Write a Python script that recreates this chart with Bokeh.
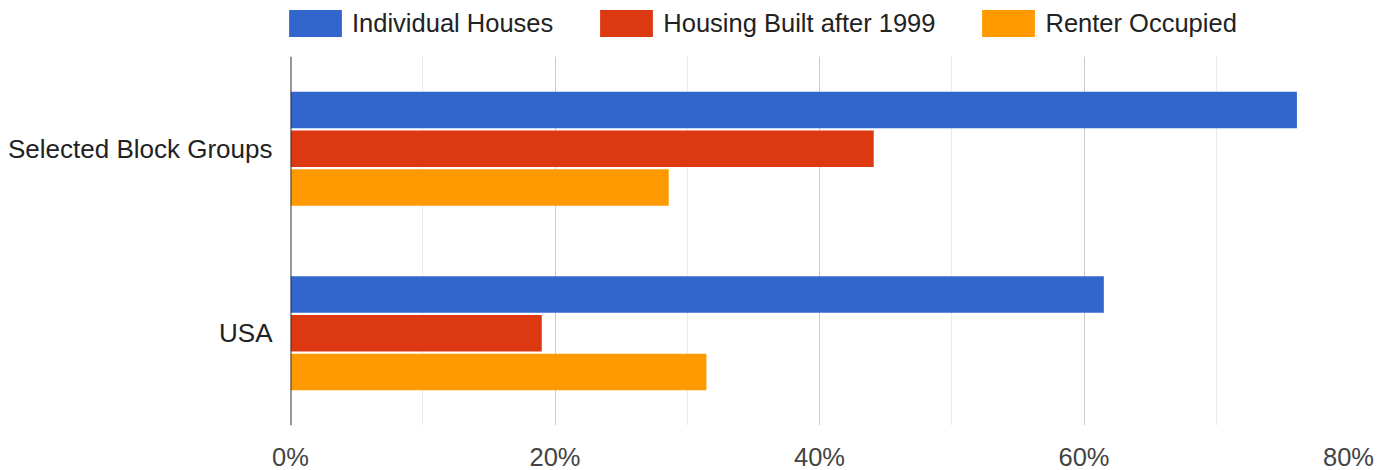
from bokeh.plotting import figure
from bokeh.models import (FactorRange, Range1d, FixedTicker, PrintfTickFormatter,
                          Span, Legend, LegendItem, ColumnDataSource)
from bokeh.transform import dodge
from bokeh.embed import file_html
from bokeh.resources import INLINE

categories = ["Selected Block Groups", "USA"]
series_names = ["Individual Houses", "Housing Built after 1999", "Renter Occupied"]
individual_houses = [76.1, 61.5]
housing_after_1999 = [44.1, 19.0]
renter_occupied = [28.6, 31.45]
x_major_ticks = [0, 20, 40, 60, 80]
x_minor_ticks = [10, 30, 50, 70]

colors = ["#3366cc", "#dc3912", "#ff9900"]
FONT = "Liberation Sans"
FS = "25.5px"

src = ColumnDataSource(dict(cat=categories, ih=individual_houses,
                            hb=housing_after_1999, ro=renter_occupied))
fields = ["ih", "hb", "ro"]

# ---------------- main chart ----------------
p = figure(y_range=FactorRange(factors=categories[::-1]), x_range=Range1d(0, 80),
           frame_width=1058, frame_height=369,
           min_border_left=290, min_border_right=41, min_border_top=0, min_border_bottom=45,
           output_backend="svg", toolbar_location=None)
p.outline_line_color = None
p.background_fill_color = "white"

offsets = [0.21, 0.0, -0.21]
for f, off, c in zip(fields, offsets, colors):
    p.hbar(y=dodge("cat", off, range=p.y_range), right=f, left=0, height=0.198,
           source=src, fill_color=c, line_color=None)

p.xgrid.ticker = FixedTicker(ticks=x_major_ticks, minor_ticks=x_minor_ticks)
p.xgrid.grid_line_color = "#cccccc"
p.xgrid.grid_line_width = 1
p.xgrid.minor_grid_line_color = "#ebebeb"
p.xgrid.minor_grid_line_width = 1
p.ygrid.grid_line_color = None

p.add_layout(Span(location=0, dimension="height", line_color="#333333", line_width=2))

xa = p.xaxis[0]
xa.ticker = FixedTicker(ticks=x_major_ticks)
xa.formatter = PrintfTickFormatter(format="%d%%")
xa.axis_line_color = None
xa.major_tick_line_color = None
xa.minor_tick_line_color = None
xa.major_tick_out = 0
xa.major_label_standoff = 17
xa.major_label_text_font = FONT
xa.major_label_text_font_size = FS
xa.major_label_text_color = "#444444"

ya = p.yaxis[0]
ya.axis_line_color = None
ya.major_tick_line_color = None
ya.minor_tick_line_color = None
ya.major_tick_out = 0
ya.major_label_standoff = 18
ya.major_label_text_font = FONT
ya.major_label_text_font_size = "26px"
ya.major_label_text_color = "#222222"

# ---------------- legend strip ----------------
leg = figure(width=1390, height=56, x_range=Range1d(0, 1), y_range=Range1d(0, 1),
             min_border=0, x_axis_location=None, y_axis_location=None,
             output_backend="svg", toolbar_location=None)
leg.outline_line_color = None
leg.grid.grid_line_color = None
leg_renderers = [leg.hbar(y=f, right=f, left=0, height=1, source=src,
                          fill_color=c, line_color=None, visible=False)
                 for f, c in zip(fields, colors)]

legend = Legend(items=[LegendItem(label=n, renderers=[r]) for n, r in zip(series_names, leg_renderers)],
                orientation="horizontal", location=(282, 16),
                label_text_font=FONT, label_text_font_size=FS, label_text_color="#222222",
                glyph_width=66, glyph_height=34, label_standoff=4, spacing=40,
                padding=0, margin=0, border_line_color=None, background_fill_alpha=0,
                inactive_fill_alpha=0)
leg.add_layout(legend, "center")

open("out.html", "w").write(file_html([leg, p], INLINE))
